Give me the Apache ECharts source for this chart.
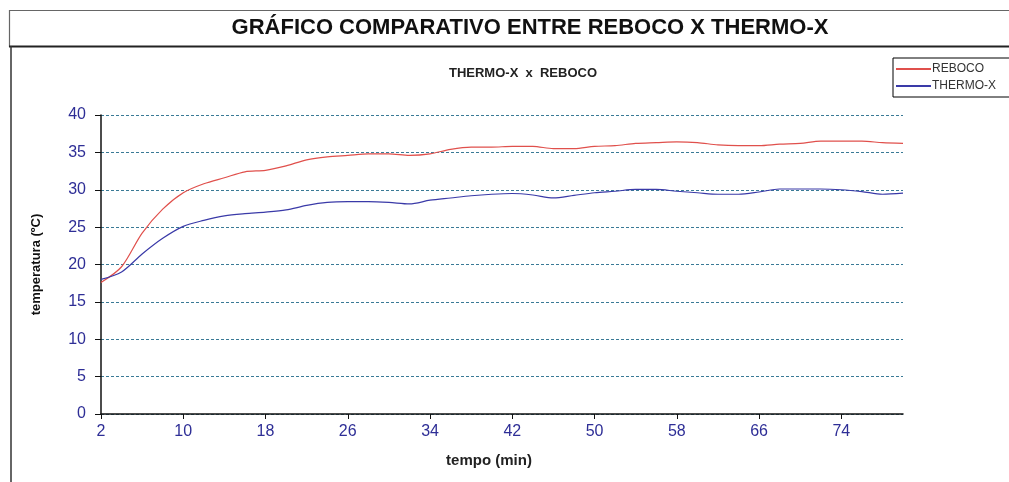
<!DOCTYPE html>
<html>
<head>
<meta charset="utf-8">
<script src="https://cdn.jsdelivr.net/npm/echarts@6/dist/echarts.min.js"></script>
<style>html,body{margin:0;padding:0;background:#fff;}#c{width:1009px;height:482px;}</style>
</head>
<body>
<div id="c"></div>
<script>
var categories = ['2','4','6','8','10','12','14','16','18','20','22','24','26','28','30','32','34','36','38','40','42','44','46','48','50','52','54','56','58','60','62','64','66','68','70','72','74','76','78','80'];
var reboco = [17.6,19.7,24.2,27.4,29.6,30.8,31.6,32.4,32.6,33.2,34.0,34.4,34.6,34.8,34.8,34.6,34.8,35.4,35.7,35.7,35.8,35.8,35.5,35.5,35.8,35.9,36.2,36.3,36.4,36.3,36.0,35.9,35.9,36.1,36.2,36.5,36.5,36.5,36.3,36.2];
var thermox = [18.0,19.0,21.4,23.5,25.1,25.9,26.5,26.8,27.0,27.3,27.9,28.3,28.4,28.4,28.3,28.1,28.6,28.9,29.2,29.4,29.5,29.3,28.9,29.25,29.6,29.8,30.05,30.05,29.8,29.6,29.4,29.4,29.7,30.1,30.1,30.1,30.0,29.75,29.4,29.55];
var seriesNames = ['REBOCO','THERMO-X'];
var mainTitle = 'GRÁFICO COMPARATIVO ENTRE REBOCO X THERMO-X';
var subTitle = 'THERMO-X  x  REBOCO';

var chart = echarts.init(document.getElementById('c'));
var F = '"Liberation Sans", Arial, sans-serif';
var navy = '#2e2e96';
chart.setOption({
  animation: false,
  backgroundColor: '#fff',
  graphic: [
    {type:'rect', shape:{x:9.5,y:10.5,width:1010,height:36}, style:{fill:'none', stroke:'#666', lineWidth:1.2}},
    {type:'line', shape:{x1:9,y1:46.5,x2:1009,y2:46.5}, style:{stroke:'#222', lineWidth:2}},
    {type:'line', shape:{x1:11,y1:46,x2:11,y2:482}, style:{stroke:'#333', lineWidth:1.5}},
    {type:'text', x:530, y:17, style:{text:mainTitle, font:'bold 22px '+F, fill:'#111', align:'center'}}
  ],
  title: {
    text: subTitle, left: 518, top: 62, textAlign: 'center',
    textStyle: {fontFamily: F, fontSize: 13, fontWeight: 'bold', color: '#222'}
  },
  legend: {
    left: 893, top: 58, orient: 'vertical', itemWidth: 35, itemHeight: 2, itemGap: 5,
    borderColor: '#000', borderWidth: 1, padding: [5, 20, 5, 3],
    icon: 'rect',
    textStyle: {fontFamily: F, fontSize: 12, color: '#333', padding: [0,0,0,-4]},
    data: seriesNames
  },
  grid: {left: 101, right: 106, top: 115, bottom: 68},
  xAxis: {
    type: 'category', data: categories, boundaryGap: false,
    name: 'tempo (min)', nameLocation: 'middle', nameGap: 39,
    nameTextStyle: {fontFamily: F, fontSize: 15, fontWeight: 'bold', color: '#222', padding: [0, 26, 0, 0]},
    axisLine: {lineStyle: {color: '#111', width: 1.5}},
    axisTick: {interval: 3, length: 5, lineStyle: {color: '#111'}},
    axisLabel: {interval: 3, margin: 10, fontFamily: F, fontSize: 16, color: navy},
    splitLine: {show: false}
  },
  yAxis: {
    type: 'value', min: 0, max: 40, interval: 5,
    name: 'temperatura (ºC)', nameLocation: 'middle', nameGap: 58,
    nameTextStyle: {fontFamily: F, fontSize: 13, fontWeight: 'bold', color: '#111'},
    axisLine: {show: true, lineStyle: {color: '#111', width: 1.5}},
    axisTick: {show: true, length: 6, lineStyle: {color: '#111'}},
    axisLabel: {margin: 15, fontFamily: F, fontSize: 16, color: navy},
    splitLine: {show: true, lineStyle: {color: '#3a7a96', type: [3, 2], width: 1}}
  },
  series: [
    {name: seriesNames[0], type: 'line', data: reboco, smooth: 0.3, showSymbol: false, symbol: 'none',
     lineStyle: {color: '#e0504c', width: 1.2}, itemStyle: {color: '#e0504c'}},
    {name: seriesNames[1], type: 'line', data: thermox, smooth: 0.3, showSymbol: false, symbol: 'none',
     lineStyle: {color: '#3a3aa8', width: 1.2}, itemStyle: {color: '#3a3aa8'}}
  ]
});
</script>
</body>
</html>
